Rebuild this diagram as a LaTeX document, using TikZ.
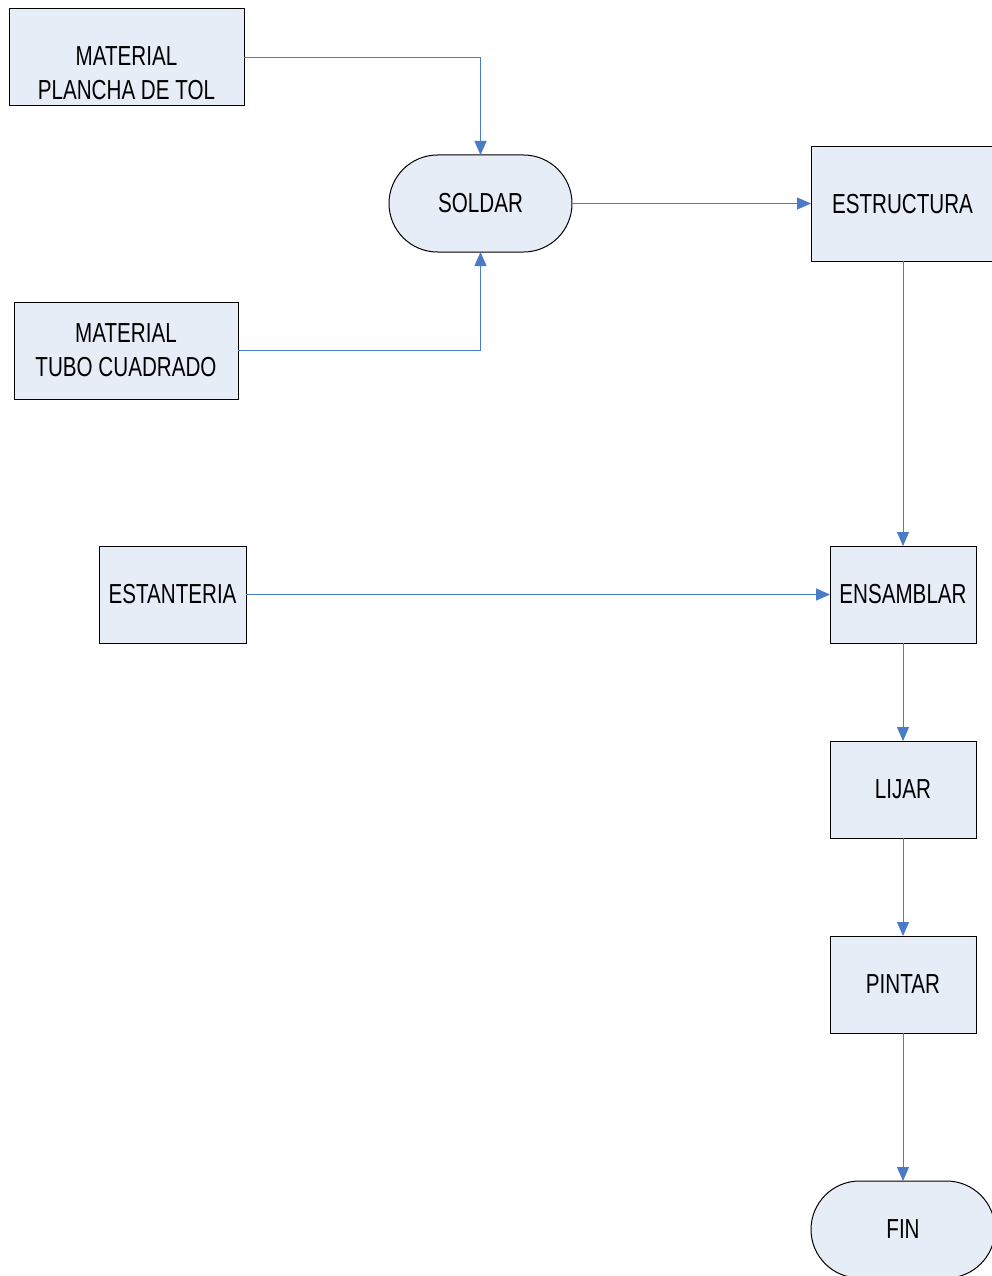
\documentclass[tikz,border=0pt]{standalone}
\usepackage{fontspec}
\newfontfamily\lbl[FakeStretch=0.75]{Liberation Sans}
\usetikzlibrary{arrows.meta}
\definecolor{boxfill}{HTML}{E7EDF7}
\definecolor{linkblue}{HTML}{4A7BC6}
\begin{document}
\begin{tikzpicture}[x=1pt,y=-1pt,
  box/.style={draw=black,line width=1pt,fill=boxfill,inner sep=0pt,outer sep=0pt,
    align=center,font=\lbl\fontsize{27.5}{34}\selectfont},
  term/.style={box,rounded corners=48.5pt},
  txt/.style={inner sep=0pt,align=center,font=\lbl\fontsize{27.5}{34}\selectfont},
  link/.style={draw=linkblue,line width=0.9pt,-{Triangle[length=14pt,width=12pt]}}]
\useasboundingbox (0,0) rectangle (991,1276);
% nodes
\node[box,minimum width=235pt,minimum height=97pt] (m1) at (126.5,57.5) {};
\node[txt] (m1t) at (126.5,73) {MATERIAL\\PLANCHA DE TOL};
\node[box,minimum width=224pt,minimum height=97pt] (m2) at (126,350.5) {MATERIAL\\TUBO CUADRADO};
\node[term,minimum width=183pt,minimum height=97pt] (sol) at (480.5,203.5) {SOLDAR};
\node[box,minimum width=183pt,minimum height=114pt] (est) at (902.5,204) {ESTRUCTURA};
\node[box,minimum width=147pt,minimum height=97pt] (stan) at (172.5,594.5) {ESTANTERIA};
\node[box,minimum width=146pt,minimum height=97pt] (ens) at (903,594.5) {ENSAMBLAR};
\node[box,minimum width=146pt,minimum height=97pt] (lij) at (903,789.5) {LIJAR};
\node[box,minimum width=146pt,minimum height=97pt] (pin) at (903,984.5) {PINTAR};
\node[term,minimum width=184pt,minimum height=97pt] (fin) at (903,1229.5) {FIN};
% connectors
\draw[link] (m1.east) -| (sol.north);
\draw[link] (m2.east) -| (sol.south);
\draw[link] (sol.east) -- (sol.east -| est.west);
\draw[link] (est.south -| ens.north) -- (ens.north);
\draw[link] (stan.east) -- (ens.west);
\draw[link] (ens.south) -- (lij.north);
\draw[link] (lij.south) -- (pin.north);
\draw[link] (pin.south) -- (fin.north);
\end{tikzpicture}
\end{document}
